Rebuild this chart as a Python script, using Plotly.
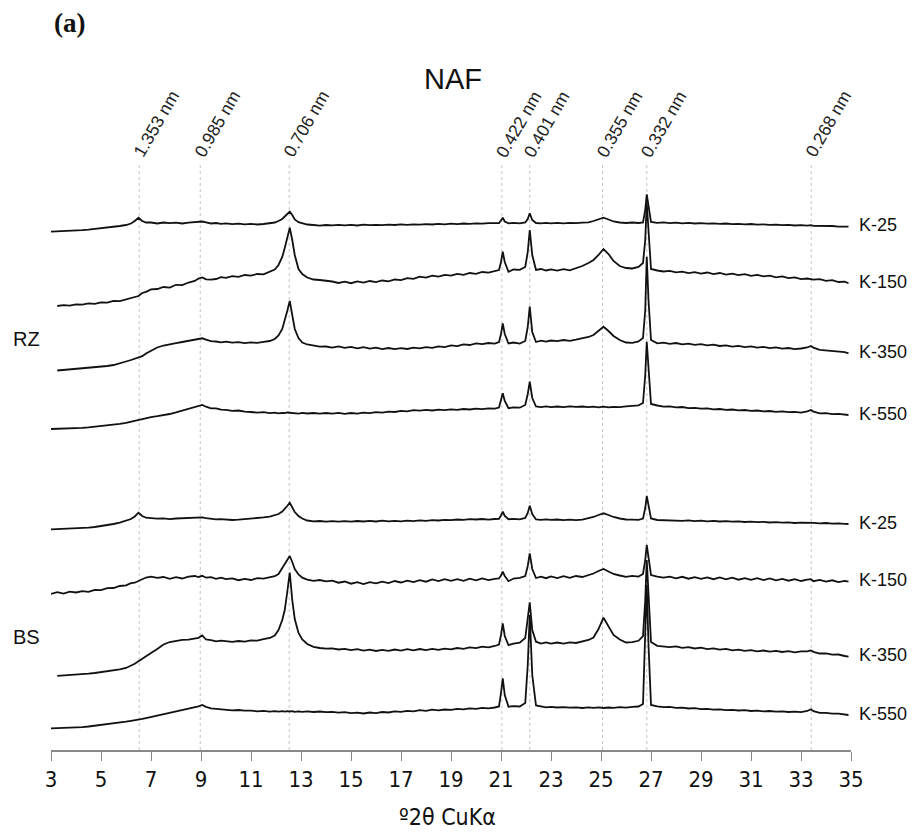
import math
import plotly.graph_objects as go

# ---- diffraction angle grid (degrees 2-theta, Cu K-alpha) shared by all patterns ----
two_theta = [
    3.0, 3.25, 3.5, 3.75, 4.0, 4.25, 4.5, 4.75, 5.0, 5.25, 5.5, 5.75, 6.0,
    6.2, 6.35, 6.5, 6.65, 6.8, 7.0, 7.25, 7.5, 7.75, 8.0, 8.25, 8.5, 8.75, 8.9, 9.05, 9.2, 9.4, 9.6, 9.8, 10.0,
    10.25, 10.5, 10.75, 11.0, 11.25, 11.5, 11.75, 11.95, 12.1, 12.25, 12.35, 12.45, 12.55, 12.65, 12.75, 12.9, 13.05, 13.25, 13.5, 13.75, 14.0,
    14.25, 14.5, 14.75, 15.0, 15.25, 15.5, 15.75, 16.0, 16.25, 16.5, 16.75, 17.0, 17.25, 17.5, 17.75, 18.0, 18.25, 18.5, 18.75, 19.0, 19.25, 19.5, 19.75, 20.0, 20.25, 20.5, 20.75,
    20.92, 21.0, 21.07, 21.15, 21.3, 21.5, 21.75, 21.97, 22.07, 22.15, 22.25, 22.4, 22.6, 22.8, 23.0,
    23.25, 23.5, 23.75, 24.0, 24.25, 24.5, 24.7, 24.9, 25.1, 25.3, 25.5, 25.75, 26.0, 26.25, 26.5, 26.68, 26.77, 26.83, 26.9, 27.0, 27.25, 27.5,
    27.75, 28.0, 28.25, 28.5, 28.75, 29.0, 29.25, 29.5, 29.75, 30.0, 30.25, 30.5, 30.75, 31.0, 31.25, 31.5, 31.75, 32.0, 32.25, 32.5, 32.75, 33.0, 33.25, 33.4, 33.5, 33.75, 34.0, 34.25, 34.5, 34.75, 34.9,
]

# ---- stacked intensities (a.u., patterns offset vertically) ----
rz_k25 = [
    518.3, 518.5, 518.7, 519.0, 519.4, 519.8, 520.3, 520.9, 521.5, 522.2, 523.0, 524.0, 525.0,
    526.5, 529.0, 532.3, 529.0, 527.5, 527.5, 526.5, 527.5, 526.8, 527.3, 526.5, 527.4, 527.6, 528.0, 528.5, 527.6, 526.5, 527.0, 526.2, 526.6,
    525.8, 526.4, 525.7, 526.2, 525.5, 526.0, 526.5, 527.5, 529.0, 531.0, 533.5, 536.0, 538.3, 535.0, 530.5, 527.8, 526.7, 525.5, 525.0, 524.3, 525.0,
    524.6, 525.2, 524.7, 525.1, 524.5, 525.3, 524.8, 525.2, 524.9, 525.4, 525.0, 525.6, 525.1, 525.7, 525.3, 525.9, 525.5, 526.1, 525.7, 526.3, 525.9, 526.5, 526.1, 526.7, 526.3, 526.8, 526.5,
    527.0, 529.5, 532.3, 528.5, 526.7, 527.1, 526.6, 527.5, 531.0, 536.7, 530.0, 527.0, 526.6, 527.2, 526.7,
    527.1, 526.6, 527.2, 526.8, 527.3, 527.6, 529.0, 531.0, 532.3, 530.5, 528.5, 527.5, 527.0, 527.5, 527.0, 527.6, 540.0, 555.7, 545.0, 528.0, 527.2, 527.6,
    526.9, 527.3, 526.7, 527.1, 526.5, 526.9, 526.3, 526.7, 526.1, 526.5, 525.9, 526.2, 525.6, 526.0, 525.4, 525.7, 525.1, 525.4, 524.8, 525.1, 524.5, 524.8, 524.3, 524.8, 524.2, 524.3, 523.7, 524.0, 523.4, 523.7, 523.3,
]

rz_k150 = [
    None, 444.0, 444.8, 444.4, 445.6, 445.3, 446.6, 446.2, 447.6, 447.4, 449.0, 448.8, 450.4,
    451.5, 453.2, 454.0, 457.0, 458.2, 460.6, 461.0, 463.0, 462.4, 465.2, 464.8, 467.5, 469.0, 471.4, 472.5, 470.6, 470.4, 471.0, 472.8, 472.2,
    473.9, 473.2, 475.0, 474.4, 476.0, 475.6, 478.3, 480.5, 485.0, 493.0, 502.0, 512.0, 522.3, 510.0, 495.0, 481.0, 476.0, 472.5, 470.5, 470.0, 469.3,
    468.5, 467.0, 468.3, 466.8, 468.6, 467.4, 469.0, 467.8, 469.5, 468.6, 470.5, 469.8, 471.9, 471.2, 473.4, 472.4, 474.4, 473.3, 475.2, 474.3, 476.2, 475.2, 477.0, 476.2, 478.0, 477.4, 478.8,
    480.0, 488.0, 498.3, 488.0, 478.3, 480.5, 480.2, 483.0, 498.0, 520.0, 495.0, 480.0, 481.0, 479.5, 480.6,
    479.4, 480.8, 479.6, 481.5, 484.0, 487.0, 490.0, 495.0, 501.0, 496.0, 489.0, 484.0, 482.0, 481.5, 483.0, 487.0, 510.0, 547.0, 515.0, 481.0, 479.5, 478.5,
    479.2, 477.6, 478.4, 476.9, 477.8, 476.3, 477.5, 475.9, 477.0, 475.4, 476.4, 474.8, 475.8, 474.2, 475.1, 473.6, 474.3, 472.7, 473.6, 471.9, 472.6, 470.9, 471.5, 471.2, 470.3, 470.8, 469.2, 469.8, 468.0, 468.4, 466.7,
]

rz_k350 = [
    None, 379.5, 380.0, 380.6, 381.2, 381.8, 382.4, 383.0, 383.3, 384.0, 385.0, 386.5, 388.5,
    390.0, 391.3, 392.5, 393.8, 396.5, 399.5, 402.5, 404.5, 406.0, 406.8, 408.0, 409.0, 410.3, 411.2, 411.7, 410.3, 408.8, 408.5, 407.6, 408.4,
    407.3, 407.8, 406.9, 407.6, 407.1, 408.2, 409.0, 411.0, 414.5, 421.0, 429.0, 439.0, 449.0, 436.0, 421.0, 412.0, 407.5, 405.5, 404.5, 403.3, 403.5,
    402.4, 403.6, 402.2, 403.2, 401.7, 402.8, 401.4, 402.4, 400.9, 402.0, 400.8, 401.9, 401.0, 402.3, 401.6, 402.9, 402.1, 403.6, 402.9, 404.6, 403.9, 405.6, 405.0, 406.6, 405.8, 407.0, 406.3,
    408.0, 416.0, 426.7, 416.0, 406.5, 407.5, 406.4, 409.0, 423.0, 443.3, 418.0, 408.0, 409.3, 408.4, 409.5,
    408.8, 410.0, 409.2, 410.3, 411.5, 413.0, 415.0, 419.0, 423.3, 419.0, 414.0, 410.0, 407.5, 407.2, 408.5, 412.0, 440.0, 493.3, 450.0, 410.0, 406.7, 407.3,
    406.2, 407.0, 405.7, 406.4, 405.1, 405.9, 404.6, 405.3, 404.0, 404.7, 403.4, 404.1, 402.9, 403.6, 402.4, 403.1, 401.9, 402.6, 401.4, 402.0, 400.9, 401.5, 402.5, 404.0, 402.3, 400.2, 399.6, 399.3, 398.2, 397.9, 396.7,
]

rz_k550 = [
    321.0, 321.1, 321.3, 321.6, 321.9, 322.2, 322.7, 323.3, 324.0, 324.7, 325.3, 326.1, 327.2,
    328.3, 329.3, 330.2, 331.3, 332.2, 332.9, 333.8, 334.7, 336.0, 337.6, 339.4, 340.8, 342.5, 343.8, 345.0, 343.3, 341.7, 341.6, 340.3, 340.2,
    339.2, 339.5, 338.3, 338.0, 337.4, 337.8, 336.9, 337.3, 336.6, 337.2, 336.8, 337.5, 337.3, 336.5, 337.0, 336.4, 337.1, 336.5, 337.0, 336.4, 337.0,
    336.3, 337.1, 336.2, 337.0, 336.4, 337.3, 336.9, 337.8, 337.4, 338.4, 338.0, 339.1, 338.7, 339.9, 339.3, 340.2, 339.5, 340.4, 339.8, 340.7, 340.2, 341.0, 340.5, 341.3, 340.9, 341.7, 341.3,
    342.5, 349.0, 356.7, 349.0, 341.8, 342.6, 342.3, 345.0, 356.0, 368.3, 352.0, 343.5, 342.9, 343.6, 342.8,
    343.5, 342.9, 343.6, 343.1, 343.5, 342.8, 343.4, 342.7, 343.3, 342.6, 343.2, 342.8, 343.6, 343.9, 344.6, 347.0, 375.0, 408.3, 380.0, 346.0, 344.5, 343.3,
    343.6, 342.6, 343.0, 341.9, 342.2, 341.3, 341.6, 340.6, 341.0, 340.1, 340.5, 339.6, 340.0, 339.1, 339.5, 338.6, 339.0, 338.2, 338.6, 337.8, 338.2, 337.4, 338.6, 340.0, 338.4, 336.6, 336.8, 335.9, 336.2, 335.3, 335.0,
]

bs_k25 = [
    220.7, 220.9, 221.1, 221.4, 221.7, 221.9, 222.4, 223.0, 223.8, 224.8, 226.0, 227.3, 229.0,
    231.0, 233.5, 237.3, 234.0, 232.3, 231.8, 231.3, 231.6, 230.9, 231.5, 231.8, 232.3, 232.5, 232.9, 232.6, 231.9, 231.3, 230.7, 230.9, 230.3,
    230.0, 230.4, 230.8, 231.4, 231.8, 232.6, 233.4, 234.5, 236.0, 238.5, 241.0, 244.0, 247.3, 242.5, 238.0, 234.0, 231.5, 229.5, 228.6, 229.0, 228.4,
    228.8, 228.3, 228.9, 228.4, 229.0, 228.5, 229.1, 228.5, 229.4, 228.7, 229.2, 228.6, 229.3, 228.9, 229.6, 229.1, 229.9, 229.5, 230.2, 229.8, 230.5, 230.1, 230.8, 230.5, 231.0, 230.4, 231.0,
    231.2, 234.5, 238.3, 234.0, 230.8, 231.2, 230.7, 232.0, 237.0, 244.3, 236.0, 230.6, 230.2, 230.7, 230.1,
    230.5, 229.9, 230.4, 229.9, 230.4, 231.5, 233.0, 235.0, 236.7, 235.0, 233.0, 231.5, 230.5, 230.3, 230.1, 231.5, 242.0, 254.0, 244.0, 231.5, 230.0, 229.7,
    229.4, 229.8, 229.2, 229.6, 228.9, 229.3, 228.7, 229.1, 228.5, 228.9, 228.3, 228.6, 228.0, 228.4, 227.8, 228.1, 227.5, 227.9, 227.3, 227.6, 227.0, 227.4, 227.3, 227.8, 227.1, 226.7, 227.0, 226.4, 226.7, 226.1, 226.0,
]

bs_k150 = [
    156.0, 157.8, 156.4, 158.3, 157.5, 158.8, 158.2, 160.2, 159.8, 161.9, 162.0, 164.0, 164.6,
    166.8, 167.3, 169.0, 170.2, 172.5, 173.3, 172.2, 173.0, 171.2, 172.8, 171.5, 173.4, 174.0, 173.0, 174.2, 172.3, 172.8, 171.2, 172.4, 170.8,
    171.6, 169.8, 171.2, 170.0, 171.8, 171.3, 173.0, 173.8, 176.0, 181.7, 186.0, 190.0, 194.0, 188.0, 181.0, 175.5, 172.4, 170.4, 169.2, 170.0, 168.6,
    169.4, 167.3, 168.5, 166.3, 167.8, 165.9, 167.9, 166.6, 168.4, 166.9, 169.0, 167.5, 169.4, 167.9, 169.9, 168.3, 170.6, 169.0, 170.9, 169.1, 170.8, 169.2, 171.3, 169.6, 171.5, 169.9, 171.2,
    171.5, 174.5, 178.3, 174.0, 168.8, 171.5, 172.2, 174.0, 184.0, 196.7, 181.0, 172.0, 173.4, 171.8, 173.6,
    172.0, 173.8, 172.1, 174.0, 173.0, 175.0, 176.5, 179.0, 181.0, 178.5, 176.0, 174.5, 173.1, 174.2, 173.4, 176.0, 190.0, 205.0, 192.0, 175.0, 173.3, 172.4,
    173.4, 171.6, 173.2, 171.3, 172.8, 171.1, 172.6, 170.8, 172.5, 170.6, 172.3, 170.3, 171.9, 170.1, 171.8, 169.9, 171.5, 169.7, 171.1, 169.3, 170.8, 169.0, 170.4, 170.8, 168.8, 170.1, 168.4, 169.7, 167.9, 169.1, 168.3,
]

bs_k350 = [
    None, 74.2, 74.5, 74.8, 75.2, 75.7, 76.3, 77.0, 77.8, 78.7, 79.5, 80.6, 82.0,
    84.0, 86.3, 88.8, 91.5, 94.2, 97.0, 101.0, 105.5, 108.0, 109.0, 110.2, 110.4, 111.6, 112.2, 114.5, 110.5, 109.8, 108.7, 109.4, 108.5,
    108.1, 109.0, 108.4, 109.6, 109.3, 110.8, 112.0, 114.5, 120.0, 130.0, 140.0, 158.0, 177.3, 150.0, 131.0, 117.0, 110.5, 106.0, 103.2, 102.0, 101.3,
    101.7, 100.5, 101.2, 99.8, 100.9, 99.4, 100.4, 99.0, 100.2, 99.1, 100.5, 99.4, 100.8, 99.7, 101.0, 99.9, 101.2, 100.1, 101.3, 100.6, 102.0, 101.2, 102.6, 101.8, 103.3, 102.6, 104.0,
    105.5, 115.0, 126.7, 114.0, 104.8, 106.3, 107.4, 112.0, 130.0, 147.7, 120.0, 108.3, 106.4, 107.6, 106.3,
    107.5, 106.4, 107.6, 107.0, 108.5, 110.0, 112.5, 121.0, 132.3, 124.0, 115.0, 110.5, 107.5, 107.8, 109.2, 114.0, 150.0, 190.0, 150.0, 108.0, 104.2, 103.7,
    102.8, 103.6, 102.2, 102.9, 101.5, 102.3, 100.9, 101.7, 100.3, 101.1, 99.6, 100.4, 99.1, 99.9, 98.6, 99.5, 98.3, 99.2, 98.0, 98.9, 97.7, 98.6, 98.7, 99.6, 98.2, 96.5, 96.7, 95.3, 95.5, 94.0, 93.3,
]

bs_k550 = [
    21.7, 21.8, 22.0, 22.3, 22.6, 22.9, 23.5, 24.2, 25.0, 25.8, 26.8, 27.6, 28.3,
    29.1, 29.6, 30.2, 31.1, 31.9, 33.0, 34.2, 35.5, 36.6, 38.0, 39.5, 40.8, 42.5, 43.6, 45.0, 43.2, 41.7, 41.2, 40.6, 40.4,
    39.7, 40.0, 39.3, 39.4, 38.7, 39.1, 38.4, 38.9, 38.3, 38.8, 38.4, 38.9, 38.5, 38.9, 38.2, 38.7, 38.1, 38.6, 38.0, 38.5, 37.9,
    38.2, 37.3, 37.8, 36.8, 37.4, 36.5, 37.5, 36.9, 38.0, 37.5, 38.6, 38.1, 39.2, 38.6, 39.8, 39.2, 40.3, 39.6, 40.5, 40.1, 41.1, 40.6, 41.6, 41.1, 42.1, 41.7, 42.5,
    43.5, 57.0, 71.7, 55.0, 43.3, 43.8, 43.5, 47.0, 85.0, 135.0, 75.0, 44.5, 43.3, 42.6, 43.1,
    42.5, 42.9, 42.3, 42.6, 42.0, 42.7, 42.1, 42.6, 42.0, 42.5, 42.1, 42.8, 42.4, 43.1, 43.5, 46.0, 110.0, 165.0, 105.0, 45.0, 43.6, 42.8,
    43.1, 42.2, 42.4, 41.5, 41.8, 40.9, 41.2, 40.4, 40.7, 39.9, 40.2, 39.5, 39.8, 39.0, 39.4, 38.7, 39.0, 38.3, 38.7, 38.0, 38.4, 37.8, 39.0, 40.8, 38.9, 37.1, 37.2, 36.3, 36.4, 35.5, 35.0,
]

sample_labels = ["K-25", "K-150", "K-350", "K-550"]
groups = {"RZ": [rz_k25, rz_k150, rz_k350, rz_k550],
          "BS": [bs_k25, bs_k150, bs_k350, bs_k550]}

# reflections marked on the patterns (d-spacing, nm)
d_spacings = [1.353, 0.985, 0.706, 0.422, 0.401, 0.355, 0.332, 0.268]
tick_values = list(range(3, 36, 2))
WAVELENGTH_NM = 0.15406  # Cu K-alpha1


def bragg_angle(d_nm):
    """2-theta (degrees) of a reflection with spacing d for Cu K-alpha."""
    return 2.0 * math.degrees(math.asin(WAVELENGTH_NM / (2.0 * d_nm)))


for series in list(groups.values()):
    for s in series:
        assert len(s) == len(two_theta)

NARROW = "Liberation Sans Narrow, DejaVu Sans Condensed, Arial Narrow, sans-serif"
SANS = "Liberation Sans, Arial, sans-serif"

fig = go.Figure()
annotations = []

for group, series in groups.items():
    for label, values in zip(sample_labels, series):
        fig.add_trace(go.Scatter(
            x=two_theta, y=values, mode="lines", name=f"{group} {label}",
            line=dict(color="#111111", width=1.8), connectgaps=False,
            hoverinfo="skip",
        ))
        annotations.append(dict(
            x=1, xref="paper", y=values[-1] + 1.5, yref="y", text=label,
            showarrow=False, xanchor="left", yanchor="middle", xshift=6,
            font=dict(family=SANS, size=18, color="#111111"),
        ))

# group names on the left
annotations.append(dict(x=0, xref="paper", y=411, yref="y", text="RZ", showarrow=False,
                        xanchor="center", yanchor="middle", xshift=-25,
                        font=dict(family=SANS, size=20, color="#111111")))
annotations.append(dict(x=0, xref="paper", y=113, yref="y", text="BS", showarrow=False,
                        xanchor="center", yanchor="middle", xshift=-25,
                        font=dict(family=SANS, size=20, color="#111111")))

shapes = []
for d in d_spacings:
    tt = bragg_angle(d)
    shapes.append(dict(type="line", xref="x", yref="paper", x0=tt, x1=tt, y0=0, y1=0.996,
                       line=dict(color="#c4c4c4", width=1, dash="3px,3px"), layer="below"))
    annotations.append(dict(x=tt, xref="x", y=1, yref="paper", text=f"{d:.3f} nm",
                            showarrow=False, textangle=-60, xanchor="center", yanchor="middle",
                            xshift=17, yshift=36,
                            font=dict(family=SANS, size=17.5, color="#222222")))

# titles
annotations.append(dict(x=0.5025, xref="paper", y=1, yref="paper", yshift=81, text="NAF",
                        xanchor="center", yanchor="middle",
                        showarrow=False, font=dict(family=SANS, size=29, color="#111111")))
annotations.append(dict(x=0, xref="paper", y=1, yref="paper", yshift=137, xshift=1,
                        xanchor="left", yanchor="middle",
                        text="<b>(a)</b>", showarrow=False,
                        font=dict(family="Liberation Serif, Times New Roman, serif", size=27, color="#111111")))
annotations.append(dict(x=0.496, xref="paper", y=0, yref="paper", yshift=-67, text="º2θ CuKα",
                        xanchor="center", yanchor="middle",
                        showarrow=False, font=dict(family=NARROW, size=23, color="#111111")))

fig.update_layout(
    width=916, height=834,
    margin=dict(l=51, r=65, t=160, b=84),
    paper_bgcolor="white", plot_bgcolor="white",
    showlegend=False,
    shapes=shapes, annotations=annotations,
    xaxis=dict(range=[3, 35], tickmode="array", tickvals=tick_values,
               ticks="outside", ticklen=9, tickwidth=1, tickcolor="#888888",
               showline=True, linecolor="#888888", linewidth=1.5,
               showgrid=False, zeroline=False,
               tickfont=dict(family=NARROW, size=22, color="#111111")),
    yaxis=dict(range=[0, 590], visible=False, showgrid=False, zeroline=False),
)

fig.write_html("out.html")
